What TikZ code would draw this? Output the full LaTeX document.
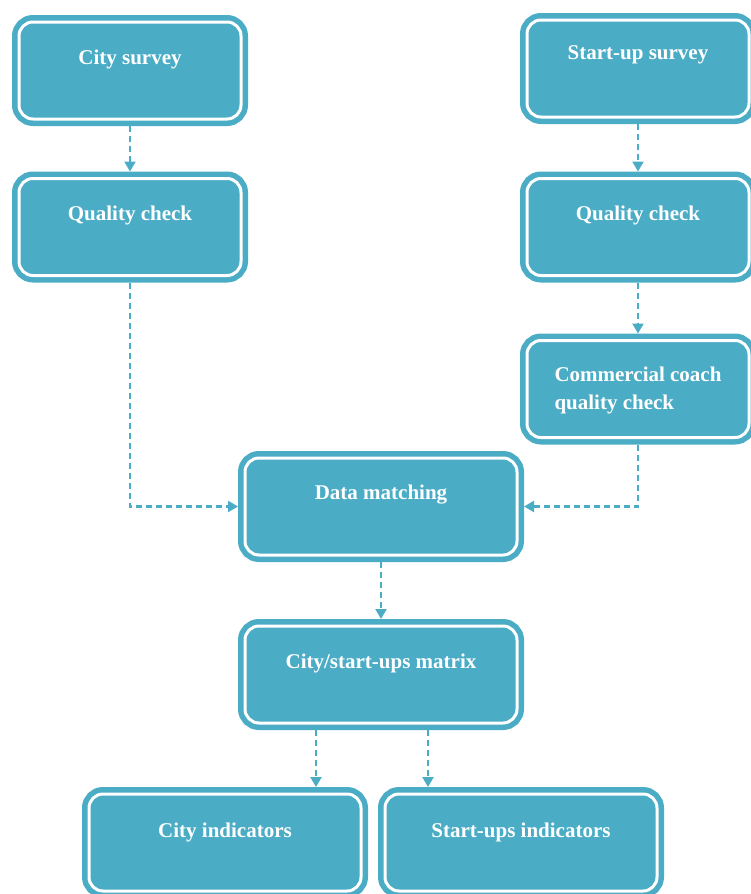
\documentclass[tikz,border=0pt]{standalone}
\usepackage{fontspec}
\setmainfont{Liberation Serif}
\usetikzlibrary{calc,arrows.meta}

\definecolor{boxblue}{RGB}{75,172,198}

\tikzset{
    box/.style={rectangle, rounded corners=14pt, fill=boxblue, draw=boxblue,
        line width=5.5pt, double=white, double distance=3pt,
        minimum width=222pt, minimum height=97pt, inner sep=0pt, outer sep=7pt},
    widebox/.style={box, minimum width=272pt},
    lbl/.style={text=white, font=\fontsize{21}{28}\selectfont\bfseries, align=left, inner sep=0pt},
    flow/.style={draw=boxblue, line width=2.2pt, dash pattern=on 6pt off 4pt,
        -{Triangle[width=11pt, length=10pt]}},
}

\begin{document}
\begin{tikzpicture}[x=1pt, y=-1pt]
    \useasboundingbox (0,0) rectangle (751,894);

    % boxes
    \node[box](cs) at (130,70.5){};
    \node[box](ss) at (638,68.5){};
    \node[box](qcl) at (130,227){};
    \node[box](qcr) at (638,227){};
    \node[box](cc) at (638,389){};
    \node[widebox](dm) at (381,506.5){};
    \node[widebox](mx) at (381,674.5){};
    \node[widebox](ci) at (225,842.5){};
    \node[widebox](si) at (521,842.5){};

    % labels
    \node[lbl](cst) at ($(cs.north)+(0,44)$){City survey};
    \node[lbl](sst) at ($(ss.north)+(0,42)$){Start-up survey};
    \node[lbl](qclt) at ($(qcl.north)+(0,44)$){Quality check};
    \node[lbl](qcrt) at ($(qcr.north)+(0,44)$){Quality check};
    \node[lbl](cct) at ($(cc.north)+(0,57)$){Commercial coach\\quality check};
    \node[lbl](dmt) at ($(dm.north)+(0,44)$){Data matching};
    \node[lbl](mxt) at ($(mx.north)+(0,44)$){City/start-ups matrix};
    \node[lbl](cit) at ($(ci.north)+(0,45)$){City indicators};
    \node[lbl](sit) at ($(si.north)+(0,45)$){Start-ups indicators};

    % connectors
    \coordinate (ml) at ($(mx.south)+(-65,0)$);
    \coordinate (mr) at ($(mx.south)+(47,0)$);

    \draw[flow](cs.south)--(qcl.north);
    \draw[flow](ss.south)--(qcr.north);
    \draw[flow](qcr.south)--(cc.north);
    \draw[flow](qcl.south)|-(dm.west);
    \draw[flow](cc.south)|-(dm.east);
    \draw[flow](dm.south)--(mx.north);
    \draw[flow](ml)--(ml|-ci.north);
    \draw[flow](mr)--(mr|-si.north);

\end{tikzpicture}
\end{document}
